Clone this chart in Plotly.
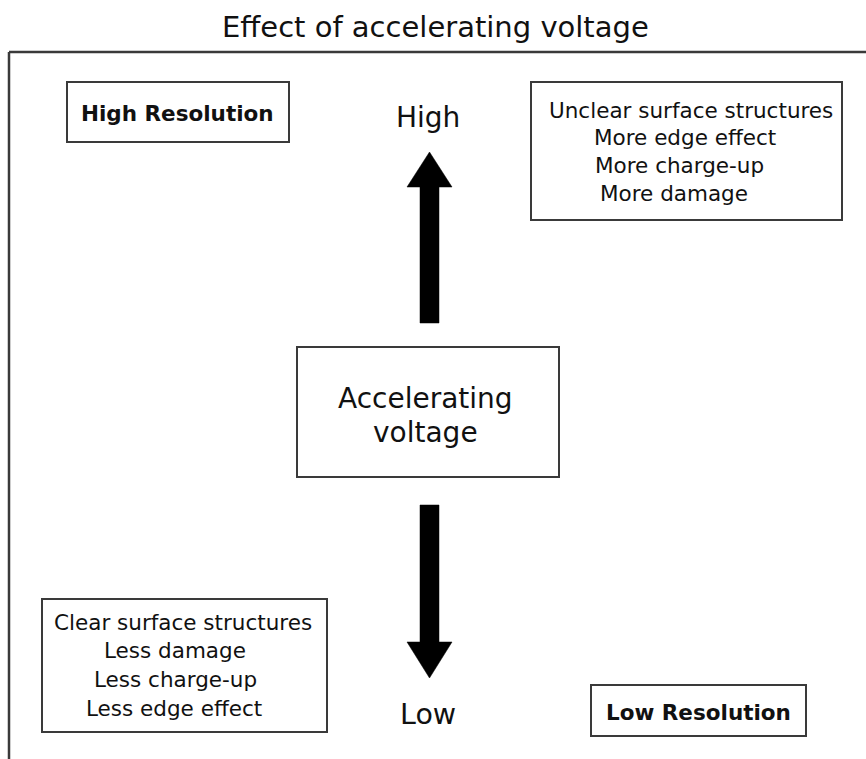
import plotly.graph_objects as go

# ---- text content (data) ----
title_text = "Effect of accelerating voltage"
center_lines = ["Accelerating", "voltage"]
high_label = "High"
low_label = "Low"
high_res_label = "High Resolution"
low_res_label = "Low Resolution"
high_effects = ["Unclear surface structures", "More edge effect", "More charge-up", "More damage"]
low_effects = ["Clear surface structures", "Less damage", "Less charge-up", "Less edge effect"]

# ---- layout geometry (pixel coordinates of the diagram canvas) ----
W, H = 866, 759
FONT = "DejaVu Sans"
TXT = "#111111"
EDGE = "#3a3a3a"

boxes = {
    "high_res": (67, 82, 289, 142),
    "high_fx": (531, 82, 842, 220),
    "center": (297, 347, 559, 477),
    "low_fx": (42, 599, 327, 732),
    "low_res": (591, 685, 806, 736),
}
high_fx_pos = [(691, 110), (684.5, 137.5), (679, 165), (673.5, 193)]
low_fx_pos = [(182.5, 622), (175, 650), (175.5, 679), (173.5, 708)]
center_pos = [(425, 398), (425, 432)]

fig = go.Figure()
fig.add_trace(go.Scatter(x=[0, W], y=[0, H], mode="markers",
                         marker=dict(opacity=0), hoverinfo="skip", showlegend=False))

shapes = []
# outer frame: top and left lines
shapes.append(dict(type="line", x0=9, y0=52, x1=W + 5, y1=52,
                   line=dict(color=EDGE, width=2.5)))
shapes.append(dict(type="line", x0=9, y0=52, x1=9, y1=H + 5,
                   line=dict(color=EDGE, width=2.5)))
for (x0, y0, x1, y1) in boxes.values():
    shapes.append(dict(type="rect", x0=x0, y0=y0, x1=x1, y1=y1,
                       line=dict(color=EDGE, width=2), fillcolor="white"))

# arrows
up_arrow = "M 420,323 L 420,187 L 407,187 L 429.5,152 L 452,187 L 439,187 L 439,323 Z"
down_arrow = "M 420,505 L 420,642 L 407,642 L 429.5,678 L 452,642 L 439,642 L 439,505 Z"
for p in (up_arrow, down_arrow):
    shapes.append(dict(type="path", path=p, fillcolor="black",
                       line=dict(color="black", width=0.5)))

ann = []
def txt(x, y, s, size, bold=False):
    ann.append(dict(x=x, y=y, text=f"<b>{s}</b>" if bold else s, showarrow=False,
                    xanchor="center", yanchor="middle",
                    font=dict(family=FONT, size=size, color=TXT)))

txt(435, 27, title_text, 29)
txt(428, 117, high_label, 28)
txt(428, 714, low_label, 28.5)
txt(177, 113, high_res_label, 21.5, bold=True)
txt(698, 712, low_res_label, 21.5, bold=True)
for (x, y), s in zip(high_fx_pos, high_effects):
    txt(x, y, s, 21.5)
for (x, y), s in zip(low_fx_pos, low_effects):
    txt(x, y, s, 21.5)
for (x, y), s in zip(center_pos, center_lines):
    txt(x, y, s, 28)

fig.update_layout(
    width=W, height=H,
    margin=dict(l=0, r=0, t=0, b=0),
    paper_bgcolor="white", plot_bgcolor="white",
    xaxis=dict(range=[0, W], visible=False, fixedrange=True),
    yaxis=dict(range=[H, 0], visible=False, fixedrange=True),
    shapes=shapes, annotations=ann, showlegend=False,
)
fig.write_html("out.html", config={"displayModeBar": False},
               post_script="document.body.style.margin='0';document.body.style.overflow='hidden';")
